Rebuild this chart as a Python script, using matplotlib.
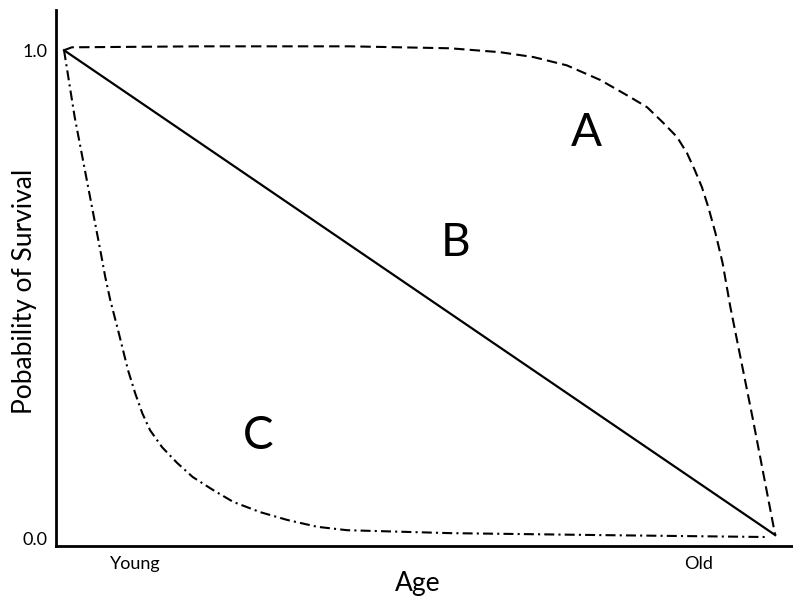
import matplotlib
matplotlib.use("Agg")
import matplotlib.pyplot as plt

plt.rcParams['font.family'] = ['Lato', 'DejaVu Sans']

# survival curves (age 0..1, probability 0..1)
age_a = [0.000, 0.011, 0.191, 0.402, 0.543, 0.613, 0.660, 0.707, 0.754, 0.796,
         0.820, 0.842, 0.862, 0.876, 0.887, 0.897, 0.906, 0.916, 0.926, 0.937,
         0.968, 1.000]
surv_a = [1.000, 1.006, 1.008, 1.008, 1.004, 0.996, 0.986, 0.969, 0.939, 0.904,
          0.883, 0.852, 0.822, 0.789, 0.754, 0.719, 0.678, 0.625, 0.564, 0.473,
          0.248, 0.006]

age_b = [0.0, 1.0]
surv_b = [1.0, 0.006]

age_c = [0.000, 0.015, 0.051, 0.058, 0.065, 0.076, 0.083, 0.090, 0.100, 0.110,
         0.121, 0.138, 0.159, 0.181, 0.210, 0.238, 0.276, 0.314, 0.356, 0.398,
         0.543, 0.754, 0.990]
surv_c = [1.000, 0.863, 0.590, 0.535, 0.488, 0.426, 0.385, 0.344, 0.297, 0.256,
          0.221, 0.186, 0.154, 0.125, 0.098, 0.074, 0.053, 0.037, 0.023, 0.016,
          0.010, 0.006, 0.002]

curve_labels = ['A', 'B', 'C']
label_pos = [(0.735, 0.83), (0.550, 0.605), (0.273, 0.210)]

x_ticks = [0.10, 0.892]
x_tick_labels = ['Young', 'Old']
y_ticks = [0.0, 1.0]
y_tick_labels = ['0.0', '1.0']

fig = plt.figure(figsize=(7.93, 6.02), dpi=100)
ax = fig.add_axes([0.0706, 0.093, 0.9284, 0.890])

ax.plot(age_a, surv_a, color='black', lw=1.5, dashes=(5, 2.5))
ax.plot(age_b, surv_b, color='black', lw=1.6)
ax.plot(age_c, surv_c, color='black', lw=1.5, dashes=(4.8, 2, 1, 2))

for lab, (x, y) in zip(curve_labels, label_pos):
    ax.text(x, y, lab, fontsize=33, ha='center', va='center')

ax.set_xlim(-0.0113, 1.0239)
ax.set_ylim(-0.0164, 1.082)

ax.set_xticks(x_ticks)
ax.set_xticklabels(x_tick_labels, fontsize=13)
ax.set_yticks(y_ticks)
ax.set_yticklabels(y_tick_labels, fontsize=13)
ax.tick_params(axis='y', length=0, pad=6)
ax.tick_params(axis='x', length=0, pad=7)

ax.set_xlabel('Age', fontsize=19)
ax.xaxis.set_label_coords(0.492, -0.047)
ax.set_ylabel('Pobability of Survival', fontsize=19)
ax.yaxis.set_label_coords(-0.026, 0.476)

for side in ['top', 'right']:
    ax.spines[side].set_visible(False)
for side in ['left', 'bottom']:
    ax.spines[side].set_linewidth(2)

fig.savefig('out.png', dpi=100)
